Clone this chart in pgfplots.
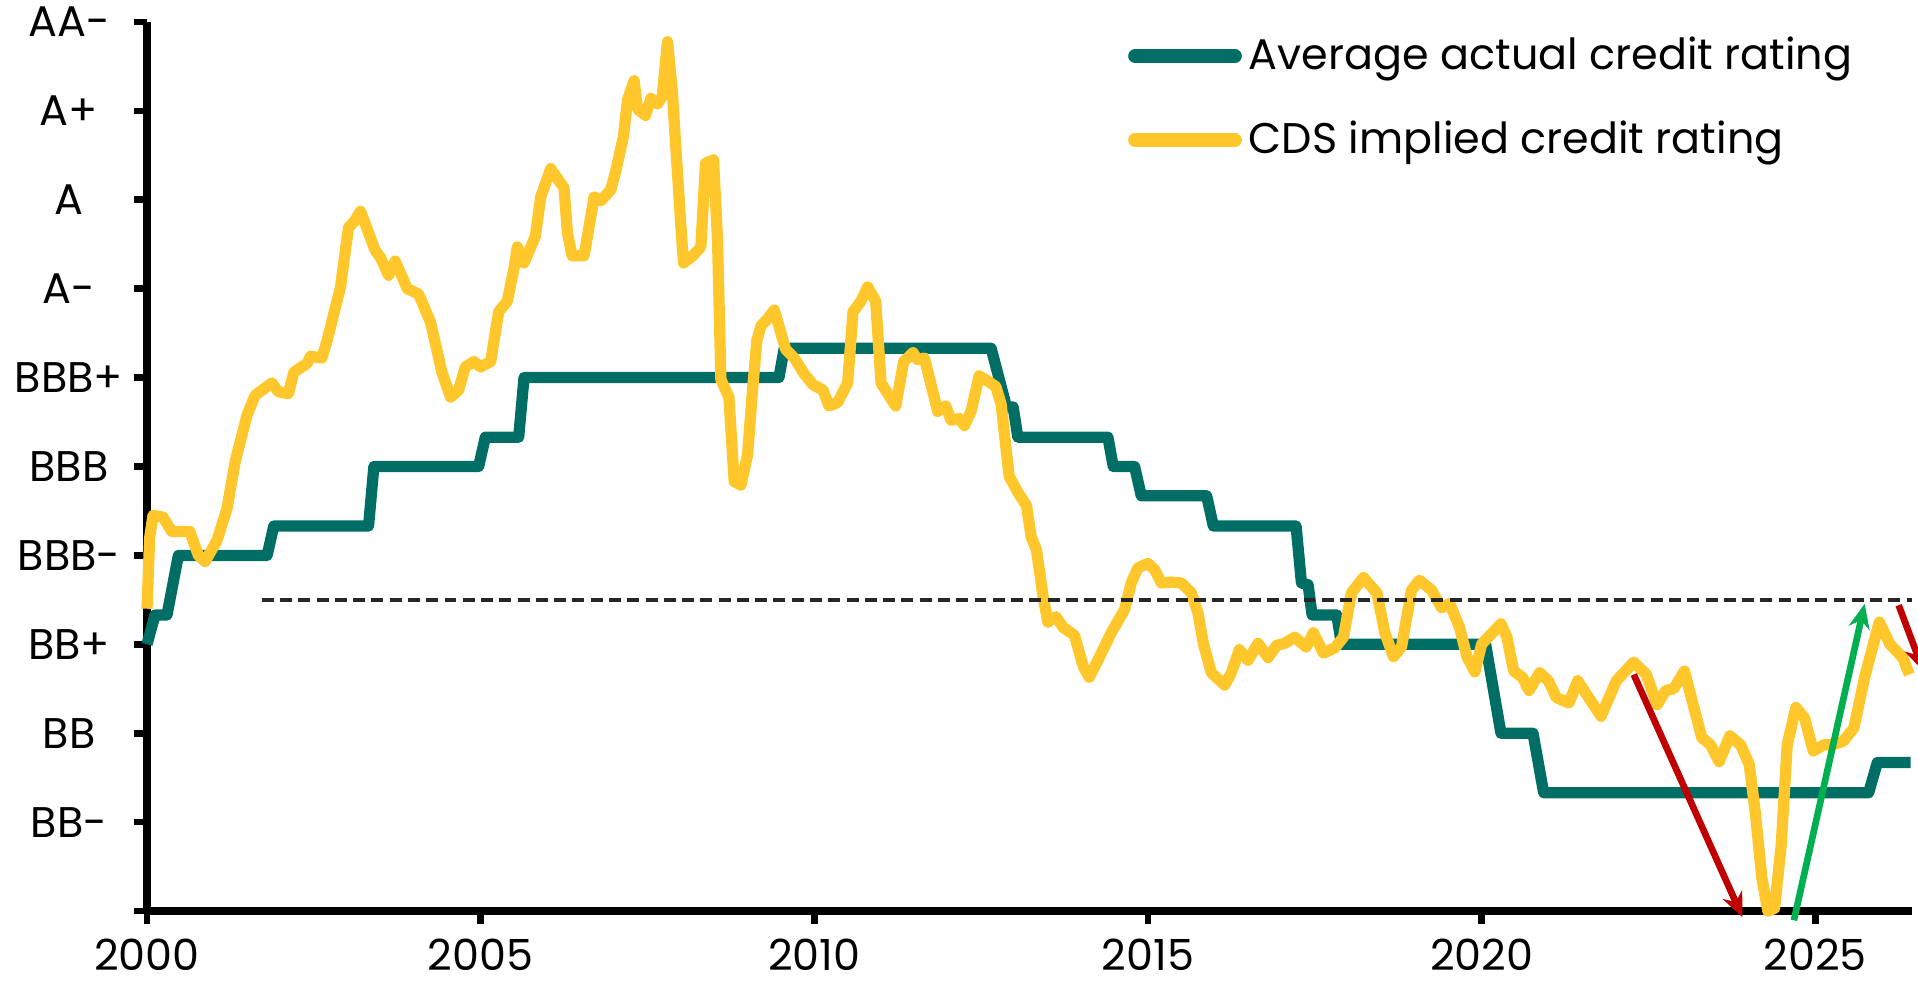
\documentclass[border=0pt]{standalone}
\usepackage{fontspec}
\setmainfont{Poppins}
\usepackage{pgfplots}
\pgfplotsset{compat=1.18}
\usetikzlibrary{arrows.meta}

\definecolor{ratingteal}{HTML}{006E64}
\definecolor{cdsyellow}{HTML}{FFC72C}
\definecolor{arrred}{HTML}{C00000}
\definecolor{arrgreen}{HTML}{00B050}
\newcommand\chartfont{\fontsize{12.2}{14}\selectfont}

\begin{document}
\begin{tikzpicture}
\begin{axis}[
    at={(0,0)}, anchor=south west,
    width=17.65cm, height=8.89cm, scale only axis,
    xmin=2000, xmax=2026.45, ymin=0, ymax=10,
    axis lines=left, axis line style={-, line width=2.4pt},
    clip=false,
    xtick={2000,2005,...,2025},
    ytick={0,1,...,10},
    yticklabels={{},BB-,BB,BB+,BBB-,BBB,BBB+,A-,A,A+,AA-},
    tick align=outside, major tick length=0.13cm,
    tick style={line width=1.9pt, black},
    /pgf/number format/1000 sep={},
    /pgf/number format/assume math mode=true,
    ticklabel style={font=\chartfont},
    yticklabel style={anchor=center, xshift=-0.65cm},
    xticklabel style={yshift=-0.03cm},
    legend style={draw=none, fill=none, at={(rel axis cs:0.5555,0.9916)}, anchor=north west,
                  inner sep=0pt, row sep=0.32cm, font=\chartfont},
    legend cell align=left,
    legend image code/.code={\draw[#1, line width=3.9pt, line cap=round] (0cm,0cm) -- (1.0cm,0cm);},
]
% average actual rating (notches: 0 = B+, 1 = BB-, ..., 10 = AA-)
\addplot[ratingteal, line width=3.2pt, line join=round] coordinates {
(2000.00,3.00) (2000.12,3.33) (2000.30,3.33) (2000.47,4.00) (2001.80,4.00) (2001.90,4.33)
(2003.32,4.33) (2003.40,5.00) (2004.97,5.00) (2005.07,5.33) (2005.57,5.33) (2005.65,6.00)
(2009.47,6.00) (2009.55,6.33) (2012.65,6.33) (2012.88,5.67) (2012.98,5.67) (2013.05,5.33)
(2014.40,5.33) (2014.48,5.00) (2014.80,5.00) (2014.90,4.67) (2015.88,4.67) (2015.98,4.33)
(2017.22,4.33) (2017.30,3.69) (2017.40,3.67) (2017.46,3.33) (2017.83,3.33) (2017.90,3.00)
(2020.06,3.00) (2020.29,2.00) (2020.77,2.00) (2020.93,1.33) (2025.80,1.33) (2025.93,1.67)
(2026.43,1.67)
};
\addlegendentry{Average actual credit rating}
% CDS implied rating
\addplot[cdsyellow, line width=3.2pt, line join=round] coordinates {
(2000.00,3.40) (2000.04,4.20) (2000.09,4.45) (2000.24,4.43) (2000.37,4.27) (2000.64,4.27)
(2000.77,4.00) (2000.87,3.93) (2001.05,4.17) (2001.20,4.53) (2001.32,5.05) (2001.50,5.58)
(2001.62,5.80) (2001.87,5.94) (2001.97,5.84) (2002.12,5.82) (2002.20,6.06) (2002.40,6.16)
(2002.45,6.24) (2002.62,6.22) (2002.70,6.42) (2002.90,7.02) (2003.02,7.69) (2003.10,7.75)
(2003.20,7.87) (2003.30,7.67) (2003.42,7.43) (2003.50,7.35) (2003.62,7.15) (2003.72,7.31)
(2003.90,7.00) (2004.07,6.94) (2004.25,6.62) (2004.42,6.06) (2004.55,5.78) (2004.67,5.86)
(2004.77,6.12) (2004.90,6.18) (2005.00,6.12) (2005.15,6.18) (2005.27,6.74) (2005.40,6.86)
(2005.50,7.23) (2005.55,7.47) (2005.65,7.29) (2005.82,7.59) (2005.90,8.03) (2006.05,8.35)
(2006.25,8.13) (2006.30,7.63) (2006.37,7.37) (2006.55,7.37) (2006.70,8.03) (2006.80,7.99)
(2006.95,8.11) (2007.02,8.31) (2007.14,8.71) (2007.20,9.12) (2007.30,9.34) (2007.35,9.02)
(2007.47,8.95) (2007.55,9.14) (2007.65,9.08) (2007.72,9.16) (2007.80,9.78) (2007.87,9.24)
(2008.00,7.71) (2008.04,7.29) (2008.18,7.37) (2008.30,7.47) (2008.37,8.41) (2008.49,8.45)
(2008.55,7.55) (2008.60,5.98) (2008.72,5.78) (2008.80,4.83) (2008.90,4.79) (2009.00,5.13)
(2009.07,5.82) (2009.14,6.42) (2009.20,6.58) (2009.30,6.66) (2009.40,6.76) (2009.50,6.50)
(2009.57,6.32) (2009.70,6.22) (2009.85,6.04) (2009.98,5.92) (2010.13,5.86) (2010.22,5.68)
(2010.35,5.72) (2010.50,5.94) (2010.58,6.74) (2010.70,6.86) (2010.80,7.02) (2010.92,6.86)
(2011.00,5.94) (2011.10,5.82) (2011.22,5.68) (2011.34,6.18) (2011.48,6.28) (2011.55,6.20)
(2011.65,6.22) (2011.85,5.62) (2011.97,5.68) (2012.05,5.52) (2012.17,5.54) (2012.25,5.46)
(2012.35,5.62) (2012.47,6.02) (2012.60,5.96) (2012.72,5.90) (2012.80,5.70) (2012.92,4.89)
(2013.05,4.71) (2013.18,4.56) (2013.25,4.21) (2013.33,4.06) (2013.43,3.53) (2013.50,3.25)
(2013.62,3.31) (2013.73,3.19) (2013.90,3.10) (2014.03,2.75) (2014.12,2.63) (2014.25,2.82)
(2014.45,3.13) (2014.65,3.39) (2014.75,3.69) (2014.85,3.86) (2015.00,3.91) (2015.10,3.84)
(2015.20,3.69) (2015.35,3.70) (2015.50,3.69) (2015.65,3.58) (2015.75,3.35) (2015.83,3.01)
(2015.95,2.68) (2016.15,2.54) (2016.25,2.68) (2016.37,2.94) (2016.50,2.82) (2016.65,3.01)
(2016.80,2.85) (2016.93,2.99) (2017.05,3.01) (2017.20,3.08) (2017.37,2.97) (2017.48,3.13)
(2017.63,2.90) (2017.80,2.96) (2017.93,3.08) (2018.05,3.58) (2018.23,3.75) (2018.43,3.58)
(2018.55,3.13) (2018.68,2.86) (2018.80,2.97) (2018.95,3.61) (2019.07,3.72) (2019.25,3.61)
(2019.40,3.41) (2019.52,3.46) (2019.67,3.19) (2019.78,2.86) (2019.90,2.69) (2020.00,3.00)
(2020.29,3.23) (2020.38,3.08) (2020.48,2.70) (2020.61,2.63) (2020.71,2.48) (2020.87,2.68)
(2021.00,2.59) (2021.12,2.40) (2021.31,2.34) (2021.44,2.59) (2021.57,2.44) (2021.79,2.19)
(2022.02,2.59) (2022.28,2.80) (2022.47,2.66) (2022.63,2.32) (2022.76,2.48) (2022.88,2.50)
(2023.04,2.70) (2023.17,2.32) (2023.30,1.95) (2023.43,1.87) (2023.56,1.68) (2023.72,1.97)
(2023.88,1.87) (2024.01,1.65) (2024.10,1.12) (2024.20,0.37) (2024.29,0.00) (2024.39,0.03)
(2024.49,0.74) (2024.58,1.87) (2024.71,2.29) (2024.84,2.17) (2024.97,1.80) (2025.13,1.87)
(2025.26,1.87) (2025.42,1.91) (2025.58,2.06) (2025.74,2.63) (2025.96,3.25) (2026.12,3.00)
(2026.31,2.85) (2026.41,2.66)
};
\addlegendentry{CDS implied credit rating}
% investment grade threshold
\addplot[black!85, line width=1pt, dash pattern=on 3.4pt off 1.8pt, forget plot]
  coordinates {(2001.72,3.5) (2026.45,3.5)};
% annotation arrows
\addplot[arrred, line width=1.9pt, -{Stealth[length=7pt,width=6pt]}, forget plot]
  coordinates {(2022.28,2.66) (2023.91,-0.07)};
\addplot[arrgreen, line width=1.9pt, -{Stealth[length=7pt,width=6pt]}, forget plot]
  coordinates {(2024.68,-0.105) (2025.74,3.455)};
\addplot[arrred, line width=1.9pt, -{Stealth[length=7pt,width=6pt]}, forget plot]
  coordinates {(2026.25,3.44) (2026.62,2.70)};
\end{axis}
\pgfresetboundingbox
\path[use as bounding box] (-1.47,-0.76) rectangle (17.71,9.11);
\end{tikzpicture}
\end{document}
